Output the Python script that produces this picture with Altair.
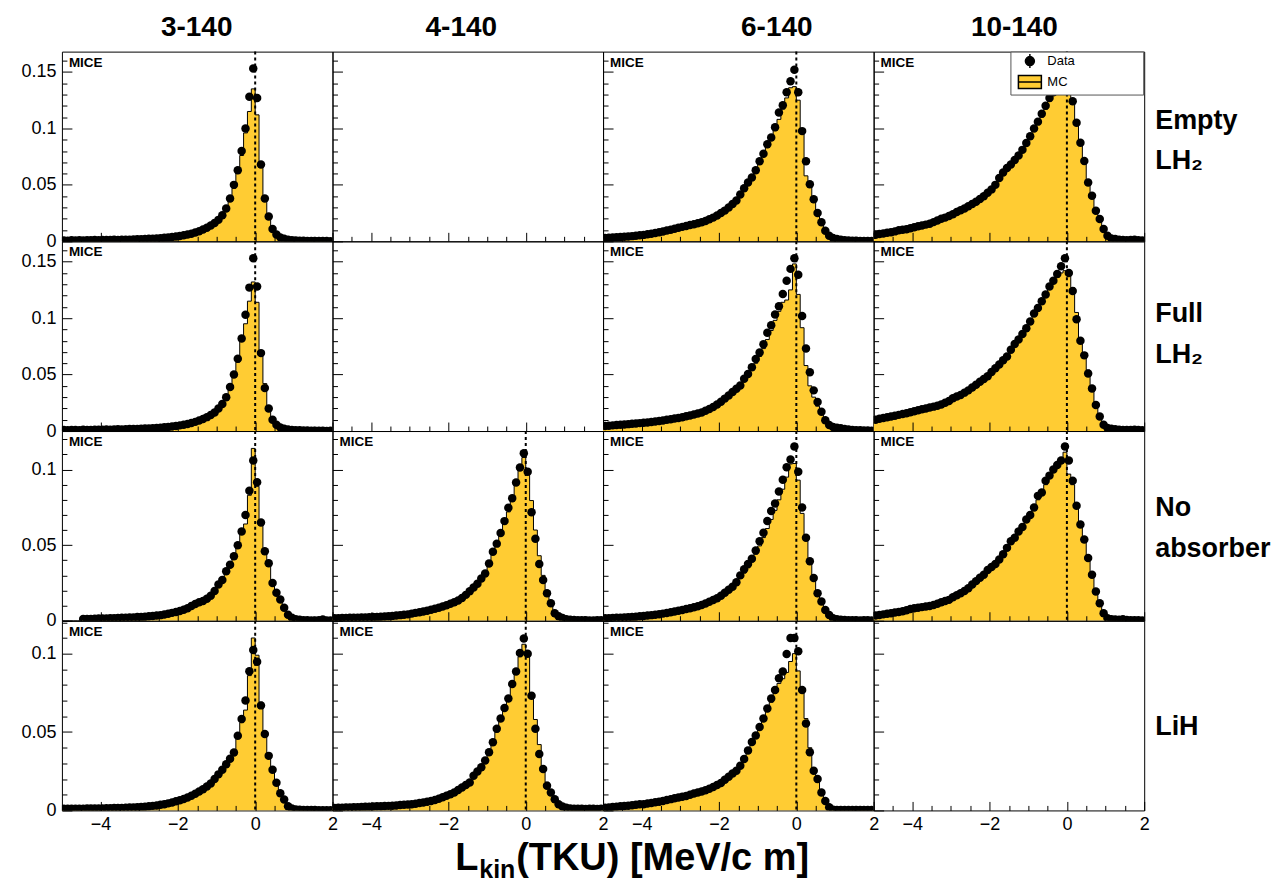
import altair as alt
import pandas as pd

FONT = "Liberation Sans"
YELLOW = "#FFCC33"
W, H = 271, 190

# bin grid: 70 bins of 0.1 from -5 to 2
BIN_LO = [round(-5.0 + 0.1 * i, 1) for i in range(70)]

COLS = ["3-140", "4-140", "6-140", "10-140"]
COL_TITLE_X = [135, 129, 174, 141]
ROWS = [["Empty", "LH\u2082"], ["Full", "LH\u2082"], ["No", "absorber"], ["LiH"]]
ROW_LABEL_Y = [69, 73, 77, 106]
YMAX = [0.168, 0.168, 0.1255, 0.121]
YMAJ = [[0, 0.05, 0.1, 0.15], [0, 0.05, 0.1, 0.15], [0, 0.05, 0.1], [0, 0.05, 0.1]]
XMAJ = [-4, -2, 0, 2]
XMIN = [-4.5, -3.5, -3, -2.5, -1.5, -1, -0.5, 0.5, 1, 1.5]

# ---------------- Empty LH2 ----------------
E3_DATA = [0.0008, 0.0006, 0.0010, 0.0007, 0.0009, 0.0008, 0.0010, 0.0009, 0.0011, 0.0010,
           0.0011, 0.0012, 0.0011, 0.0013, 0.0012, 0.0014, 0.0014, 0.0015, 0.0016, 0.0018,
           0.0019, 0.0020, 0.0022, 0.0024, 0.0026, 0.0028, 0.0031, 0.0034, 0.0038, 0.0042,
           0.0047, 0.0053, 0.0060, 0.0068, 0.0078, 0.0090, 0.0104, 0.0120, 0.0140, 0.0162,
           0.019, 0.023, 0.029, 0.038, 0.050, 0.063, 0.080, 0.100, 0.128, 0.153,
           0.127, 0.068, 0.038, 0.022, 0.011, 0.006, 0.0035, 0.0022, 0.0015, 0.0010,
           0.0008, 0.0006, 0.0005, 0.0004, 0.0003, 0.0004, 0.0003, 0.0002, 0.0002, 0.0001]
E3_MC = [0.0008, 0.0007, 0.0009, 0.0008, 0.0009, 0.0009, 0.0010, 0.0010, 0.0011, 0.0011,
         0.0012, 0.0012, 0.0013, 0.0013, 0.0014, 0.0014, 0.0015, 0.0016, 0.0017, 0.0018,
         0.0019, 0.0021, 0.0022, 0.0024, 0.0026, 0.0029, 0.0032, 0.0035, 0.0039, 0.0043,
         0.0048, 0.0054, 0.0061, 0.0069, 0.0079, 0.0090, 0.0103, 0.0118, 0.0137, 0.0158,
         0.0185, 0.0220, 0.0280, 0.0360, 0.0470, 0.0600, 0.0760, 0.0960, 0.1150, 0.1350,
         0.1120, 0.0700, 0.0400, 0.0230, 0.0120, 0.0062, 0.0036, 0.0022, 0.0015, 0.0010,
         0.0008, 0.0006, 0.0005, 0.0004, 0.0003, 0.0003, 0.0003, 0.0002, 0.0002, 0.0001]
E6_DATA = [0.0030, 0.0032, 0.0034, 0.0036, 0.0038, 0.0040, 0.0043, 0.0046, 0.0050, 0.0053,
           0.0057, 0.0062, 0.0067, 0.0073, 0.0080, 0.0087, 0.0095, 0.0103, 0.0111, 0.0120,
           0.0128, 0.0136, 0.0144, 0.0152, 0.0160, 0.0168, 0.0180, 0.0195, 0.0210, 0.0228,
           0.0250, 0.0272, 0.0300, 0.0330, 0.0362, 0.0415, 0.0470, 0.0520, 0.0565, 0.0630,
           0.0710, 0.0776, 0.0860, 0.0920, 0.1010, 0.1140, 0.1205, 0.1320, 0.1417, 0.1520,
           0.1320, 0.0976, 0.0710, 0.0506, 0.0373, 0.0250, 0.0168, 0.0094, 0.0050, 0.0030,
           0.0020, 0.0015, 0.0010, 0.0008, 0.0006, 0.0005, 0.0004, 0.0003, 0.0003, 0.0002]
E6_MC = [0.0028, 0.0030, 0.0032, 0.0034, 0.0036, 0.0038, 0.0041, 0.0044, 0.0047, 0.0051,
         0.0055, 0.0059, 0.0064, 0.0069, 0.0075, 0.0082, 0.0089, 0.0097, 0.0105, 0.0113,
         0.0121, 0.0129, 0.0137, 0.0145, 0.0154, 0.0163, 0.0175, 0.0189, 0.0204, 0.0222,
         0.0242, 0.0264, 0.0290, 0.0320, 0.0355, 0.0400, 0.0450, 0.0500, 0.0550, 0.0610,
         0.0680, 0.0750, 0.0830, 0.0900, 0.0980, 0.1080, 0.1170, 0.1270, 0.1360, 0.1370,
         0.1250, 0.0990, 0.0580, 0.0500, 0.0370, 0.0250, 0.0165, 0.0092, 0.0050, 0.0030,
         0.0020, 0.0015, 0.0010, 0.0008, 0.0006, 0.0005, 0.0004, 0.0003, 0.0003, 0.0002]
E10_DATA = [0.0058, 0.0065, 0.0070, 0.0075, 0.0080, 0.0088, 0.0098, 0.0102, 0.0107, 0.0115,
            0.0125, 0.0133, 0.0140, 0.0148, 0.0155, 0.0170, 0.0185, 0.0200, 0.0210, 0.0225,
            0.0240, 0.0260, 0.0275, 0.0290, 0.0310, 0.0330, 0.0350, 0.0375, 0.0400, 0.0430,
            0.0460, 0.0500, 0.0560, 0.0610, 0.0650, 0.0680, 0.0720, 0.0760, 0.0810, 0.0870,
            0.0930, 0.1000, 0.1060, 0.1130, 0.1200, 0.1270, 0.1320, 0.1380, 0.1430, 0.1470,
            0.1400, 0.1240, 0.1050, 0.0873, 0.0711, 0.0520, 0.0403, 0.0270, 0.0197, 0.0109,
            0.0050, 0.0025, 0.0020, 0.0015, 0.0012, 0.0010, 0.0012, 0.0015, 0.0010, 0.0008]
E10_MC = [0.0055, 0.0062, 0.0068, 0.0073, 0.0078, 0.0085, 0.0093, 0.0099, 0.0104, 0.0111,
          0.0120, 0.0128, 0.0136, 0.0144, 0.0152, 0.0165, 0.0179, 0.0193, 0.0205, 0.0219,
          0.0233, 0.0252, 0.0268, 0.0284, 0.0302, 0.0322, 0.0342, 0.0366, 0.0392, 0.0420,
          0.0450, 0.0488, 0.0540, 0.0590, 0.0632, 0.0668, 0.0708, 0.0748, 0.0796, 0.0852,
          0.0915, 0.0980, 0.1040, 0.1100, 0.1170, 0.1240, 0.1300, 0.1350, 0.1380, 0.1390,
          0.1360, 0.1250, 0.1060, 0.0880, 0.0720, 0.0530, 0.0400, 0.0275, 0.0190, 0.0110,
          0.0050, 0.0026, 0.0020, 0.0015, 0.0012, 0.0010, 0.0010, 0.0012, 0.0010, 0.0008]

# ---------------- Full LH2 ----------------
F3_DATA = [0.0010, 0.0008, 0.0009, 0.0010, 0.0008, 0.0011, 0.0009, 0.0010, 0.0012, 0.0011,
           0.0012, 0.0013, 0.0012, 0.0014, 0.0015, 0.0014, 0.0016, 0.0017, 0.0018, 0.0019,
           0.0020, 0.0022, 0.0023, 0.0025, 0.0027, 0.0030, 0.0033, 0.0036, 0.0040, 0.0045,
           0.0050, 0.0056, 0.0063, 0.0071, 0.0081, 0.0093, 0.0107, 0.0123, 0.0142, 0.0165,
           0.020, 0.024, 0.030, 0.039, 0.050, 0.064, 0.082, 0.103, 0.127, 0.153,
           0.128, 0.069, 0.038, 0.020, 0.010, 0.0056, 0.0032, 0.0020, 0.0014, 0.0010,
           0.0007, 0.0006, 0.0005, 0.0004, 0.0003, 0.0003, 0.0002, 0.0002, 0.0001, 0.0002]
F3_MC = [0.0009, 0.0009, 0.0009, 0.0010, 0.0010, 0.0010, 0.0010, 0.0011, 0.0011, 0.0012,
         0.0012, 0.0013, 0.0013, 0.0014, 0.0014, 0.0015, 0.0016, 0.0017, 0.0018, 0.0019,
         0.0020, 0.0021, 0.0023, 0.0025, 0.0027, 0.0029, 0.0032, 0.0035, 0.0039, 0.0044,
         0.0049, 0.0055, 0.0062, 0.0070, 0.0080, 0.0091, 0.0104, 0.0120, 0.0139, 0.0161,
         0.0190, 0.0230, 0.0290, 0.0370, 0.0480, 0.0610, 0.0800, 0.0950, 0.1150, 0.1320,
         0.1140, 0.0700, 0.0420, 0.0220, 0.0110, 0.0058, 0.0033, 0.0020, 0.0014, 0.0010,
         0.0007, 0.0006, 0.0005, 0.0004, 0.0003, 0.0003, 0.0002, 0.0002, 0.0002, 0.0001]
F6_DATA = [0.0045, 0.0047, 0.0050, 0.0053, 0.0055, 0.0058, 0.0061, 0.0064, 0.0067, 0.0070,
           0.0073, 0.0076, 0.0080, 0.0084, 0.0089, 0.0094, 0.0099, 0.0104, 0.0110, 0.0116,
           0.0122, 0.0130, 0.0138, 0.0146, 0.0155, 0.0165, 0.0180, 0.0195, 0.0212, 0.0235,
           0.0260, 0.0287, 0.0315, 0.0345, 0.0375, 0.0404, 0.0462, 0.0506, 0.0564, 0.0637,
           0.0696, 0.0769, 0.0871, 0.0936, 0.1032, 0.1105, 0.1213, 0.1330, 0.1436, 0.1530,
           0.1383, 0.1018, 0.0731, 0.0520, 0.0360, 0.0257, 0.0170, 0.0096, 0.0053, 0.0035,
           0.0030, 0.0024, 0.0018, 0.0014, 0.0010, 0.0008, 0.0006, 0.0005, 0.0004, 0.0003]
F6_MC = [0.0043, 0.0045, 0.0048, 0.0051, 0.0053, 0.0056, 0.0059, 0.0062, 0.0065, 0.0068,
         0.0071, 0.0074, 0.0078, 0.0082, 0.0087, 0.0092, 0.0097, 0.0102, 0.0108, 0.0114,
         0.0120, 0.0127, 0.0135, 0.0143, 0.0152, 0.0162, 0.0176, 0.0191, 0.0208, 0.0230,
         0.0255, 0.0280, 0.0305, 0.0335, 0.0365, 0.0395, 0.0440, 0.0485, 0.0540, 0.0600,
         0.0660, 0.0730, 0.0810, 0.0890, 0.0980, 0.1060, 0.1140, 0.1160, 0.1250, 0.1480,
         0.1210, 0.0915, 0.0580, 0.0400, 0.0300, 0.0220, 0.0150, 0.0090, 0.0050, 0.0035,
         0.0030, 0.0024, 0.0018, 0.0014, 0.0010, 0.0008, 0.0006, 0.0005, 0.0004, 0.0003]
F10_DATA = [0.0100, 0.0108, 0.0115, 0.0122, 0.0129, 0.0136, 0.0143, 0.0151, 0.0158, 0.0166,
            0.0175, 0.0183, 0.0192, 0.0200, 0.0208, 0.0216, 0.0224, 0.0235, 0.0250, 0.0265,
            0.0290, 0.0305, 0.0320, 0.0340, 0.0360, 0.0385, 0.0410, 0.0436, 0.0460, 0.0485,
            0.0523, 0.0555, 0.0590, 0.0626, 0.0660, 0.0720, 0.0770, 0.0810, 0.0860, 0.0910,
            0.0970, 0.1040, 0.1090, 0.1150, 0.1210, 0.1280, 0.1330, 0.1390, 0.1460, 0.1530,
            0.1400, 0.1240, 0.0990, 0.0800, 0.0670, 0.0510, 0.0377, 0.0231, 0.0129, 0.0056,
            0.0026, 0.0020, 0.0015, 0.0012, 0.0010, 0.0009, 0.0010, 0.0012, 0.0010, 0.0008]
F10_MC = [0.0098, 0.0105, 0.0112, 0.0119, 0.0126, 0.0133, 0.0140, 0.0148, 0.0155, 0.0163,
          0.0171, 0.0179, 0.0188, 0.0196, 0.0204, 0.0212, 0.0220, 0.0231, 0.0245, 0.0260,
          0.0284, 0.0299, 0.0314, 0.0334, 0.0354, 0.0378, 0.0402, 0.0428, 0.0452, 0.0478,
          0.0515, 0.0548, 0.0583, 0.0618, 0.0652, 0.0710, 0.0760, 0.0800, 0.0850, 0.0900,
          0.0960, 0.1020, 0.1080, 0.1140, 0.1200, 0.1260, 0.1310, 0.1360, 0.1400, 0.1420,
          0.1380, 0.1270, 0.1050, 0.0816, 0.0680, 0.0540, 0.0380, 0.0240, 0.0130, 0.0060,
          0.0027, 0.0020, 0.0015, 0.0012, 0.0010, 0.0009, 0.0010, 0.0011, 0.0010, 0.0008]

# ---------------- No absorber ----------------
N3_DATA = [0, 0, 0, 0, 0, 0.0011, 0.0012, 0.0012, 0.0013, 0.0014,
           0.0014, 0.0015, 0.0016, 0.0017, 0.0018, 0.0019, 0.0020, 0.0021, 0.0022, 0.0024,
           0.0025, 0.0027, 0.0029, 0.0031, 0.0034, 0.0037, 0.0041, 0.0046, 0.0052, 0.0058,
           0.0064, 0.0072, 0.0082, 0.0097, 0.0110, 0.0122, 0.0130, 0.0145, 0.0165, 0.0196,
           0.0240, 0.0270, 0.0328, 0.0370, 0.0427, 0.0500, 0.0590, 0.0700, 0.0860, 0.1060,
           0.0916, 0.0650, 0.0460, 0.0380, 0.0250, 0.0185, 0.0140, 0.0086, 0.0040, 0.0020,
           0.0010, 0.0006, 0.0004, 0.0003, 0.0002, 0.0002, 0.0003, 0.0008, 0.0002, 0.0001]
N3_MC = [0, 0, 0, 0, 0, 0.0010, 0.0011, 0.0012, 0.0012, 0.0013,
         0.0014, 0.0015, 0.0015, 0.0016, 0.0017, 0.0018, 0.0019, 0.0021, 0.0022, 0.0023,
         0.0025, 0.0027, 0.0029, 0.0031, 0.0033, 0.0036, 0.0040, 0.0045, 0.0050, 0.0056,
         0.0062, 0.0070, 0.0080, 0.0093, 0.0106, 0.0118, 0.0128, 0.0142, 0.0162, 0.0190,
         0.0235, 0.0270, 0.0320, 0.0365, 0.0420, 0.0490, 0.0580, 0.0640, 0.0830, 0.1140,
         0.0890, 0.0650, 0.0460, 0.0370, 0.0260, 0.0190, 0.0140, 0.0090, 0.0042, 0.0020,
         0.0010, 0.0006, 0.0004, 0.0003, 0.0002, 0.0002, 0.0002, 0.0003, 0.0002, 0.0001]
N4_DATA = [0.0017, 0.0017, 0.0018, 0.0018, 0.0019, 0.0020, 0.0020, 0.0021, 0.0022, 0.0023,
           0.0024, 0.0025, 0.0027, 0.0028, 0.0030, 0.0032, 0.0034, 0.0037, 0.0039, 0.0042,
           0.0047, 0.0052, 0.0056, 0.0061, 0.0066, 0.0072, 0.0079, 0.0086, 0.0094, 0.0102,
           0.0112, 0.0122, 0.0134, 0.0150, 0.0171, 0.0195, 0.0220, 0.0245, 0.0280, 0.0313,
           0.0379, 0.0456, 0.0510, 0.0580, 0.0659, 0.0747, 0.0810, 0.0915, 0.1014, 0.1108,
           0.0986, 0.0718, 0.0543, 0.0375, 0.0269, 0.0182, 0.0116, 0.0050, 0.0030, 0.0018,
           0.0010, 0.0007, 0.0005, 0.0004, 0.0003, 0.0003, 0.0002, 0.0002, 0.0004, 0.0003]
N4_MC = [0.0016, 0.0017, 0.0017, 0.0018, 0.0018, 0.0019, 0.0020, 0.0020, 0.0021, 0.0022,
         0.0023, 0.0024, 0.0026, 0.0027, 0.0029, 0.0031, 0.0033, 0.0035, 0.0038, 0.0041,
         0.0045, 0.0050, 0.0054, 0.0059, 0.0064, 0.0070, 0.0076, 0.0083, 0.0091, 0.0099,
         0.0108, 0.0118, 0.0130, 0.0145, 0.0165, 0.0188, 0.0212, 0.0238, 0.0272, 0.0306,
         0.0370, 0.0440, 0.0500, 0.0570, 0.0640, 0.0720, 0.0800, 0.0900, 0.1000, 0.1080,
         0.0970, 0.0795, 0.0600, 0.0430, 0.0300, 0.0200, 0.0120, 0.0060, 0.0032, 0.0018,
         0.0010, 0.0007, 0.0005, 0.0004, 0.0003, 0.0003, 0.0002, 0.0002, 0.0003, 0.0003]
N6_DATA = [0.0016, 0.0017, 0.0018, 0.0019, 0.0020, 0.0021, 0.0023, 0.0025, 0.0027, 0.0029,
           0.0031, 0.0034, 0.0037, 0.0040, 0.0043, 0.0047, 0.0051, 0.0056, 0.0061, 0.0066,
           0.0071, 0.0077, 0.0083, 0.0089, 0.0096, 0.0104, 0.0114, 0.0125, 0.0137, 0.0149,
           0.0165, 0.0185, 0.0205, 0.0225, 0.0255, 0.0300, 0.0340, 0.0375, 0.0410, 0.0464,
           0.0526, 0.0582, 0.0660, 0.0726, 0.0775, 0.0855, 0.0933, 0.1015, 0.1066, 0.1153,
           0.0986, 0.0749, 0.0549, 0.0393, 0.0282, 0.0182, 0.0127, 0.0071, 0.0038, 0.0016,
           0.0010, 0.0007, 0.0005, 0.0004, 0.0003, 0.0003, 0.0002, 0.0004, 0.0003, 0.0002]
N6_MC = [0.0015, 0.0016, 0.0017, 0.0018, 0.0019, 0.0020, 0.0022, 0.0024, 0.0026, 0.0028,
         0.0030, 0.0033, 0.0036, 0.0039, 0.0042, 0.0046, 0.0050, 0.0055, 0.0060, 0.0065,
         0.0070, 0.0076, 0.0082, 0.0088, 0.0095, 0.0103, 0.0112, 0.0122, 0.0133, 0.0145,
         0.0160, 0.0178, 0.0198, 0.0220, 0.0245, 0.0280, 0.0315, 0.0350, 0.0390, 0.0440,
         0.0495, 0.0550, 0.0610, 0.0670, 0.0730, 0.0800, 0.0870, 0.0950, 0.1037, 0.1040,
         0.0930, 0.0710, 0.0540, 0.0400, 0.0280, 0.0185, 0.0125, 0.0070, 0.0040, 0.0018,
         0.0010, 0.0007, 0.0005, 0.0004, 0.0003, 0.0003, 0.0002, 0.0003, 0.0003, 0.0002]
N10_DATA = [0.0035, 0.0038, 0.0042, 0.0046, 0.0050, 0.0054, 0.0058, 0.0063, 0.0070, 0.0077,
            0.0082, 0.0086, 0.0090, 0.0094, 0.0098, 0.0104, 0.0112, 0.0122, 0.0130, 0.0138,
            0.0155, 0.0168, 0.0182, 0.0196, 0.0215, 0.0240, 0.0262, 0.0285, 0.0304, 0.0335,
            0.0355, 0.0375, 0.0405, 0.0440, 0.0482, 0.0526, 0.0549, 0.0590, 0.0620, 0.0670,
            0.0700, 0.0749, 0.0826, 0.0849, 0.0926, 0.0960, 0.1000, 0.1030, 0.1060, 0.1153,
            0.1060, 0.0926, 0.0760, 0.0637, 0.0538, 0.0415, 0.0304, 0.0193, 0.0116, 0.0049,
            0.0016, 0.0010, 0.0008, 0.0006, 0.0010, 0.0005, 0.0004, 0.0003, 0.0003, 0.0002]
N10_MC = [0.0034, 0.0037, 0.0041, 0.0045, 0.0049, 0.0053, 0.0057, 0.0062, 0.0068, 0.0075,
          0.0080, 0.0084, 0.0088, 0.0092, 0.0096, 0.0102, 0.0110, 0.0119, 0.0127, 0.0135,
          0.0150, 0.0163, 0.0177, 0.0191, 0.0210, 0.0232, 0.0254, 0.0276, 0.0296, 0.0325,
          0.0345, 0.0368, 0.0396, 0.0430, 0.0470, 0.0512, 0.0540, 0.0580, 0.0612, 0.0655,
          0.0690, 0.0740, 0.0800, 0.0840, 0.0900, 0.0950, 0.0990, 0.1020, 0.1070, 0.1115,
          0.0970, 0.0900, 0.0760, 0.0640, 0.0540, 0.0420, 0.0300, 0.0195, 0.0115, 0.0050,
          0.0017, 0.0010, 0.0008, 0.0006, 0.0008, 0.0005, 0.0004, 0.0003, 0.0003, 0.0002]

# ---------------- LiH ----------------
L3_DATA = [0.0010, 0.0010, 0.0011, 0.0010, 0.0011, 0.0011, 0.0012, 0.0012, 0.0012, 0.0013,
           0.0013, 0.0014, 0.0014, 0.0015, 0.0015, 0.0016, 0.0017, 0.0018, 0.0019, 0.0020,
           0.0022, 0.0024, 0.0026, 0.0029, 0.0032, 0.0036, 0.0040, 0.0045, 0.0051, 0.0058,
           0.0065, 0.0073, 0.0083, 0.0094, 0.0106, 0.0120, 0.0135, 0.0152, 0.0172, 0.0200,
           0.0230, 0.0260, 0.0295, 0.0330, 0.0369, 0.0476, 0.0583, 0.0701, 0.0888, 0.1023,
           0.0948, 0.0670, 0.0487, 0.0348, 0.0260, 0.0176, 0.0110, 0.0069, 0.0026, 0.0012,
           0.0006, 0.0004, 0.0003, 0.0002, 0.0002, 0.0003, 0.0001, 0.0001, 0.0001, 0.0001]
L3_MC = [0.0010, 0.0010, 0.0010, 0.0011, 0.0011, 0.0011, 0.0012, 0.0012, 0.0012, 0.0013,
         0.0013, 0.0014, 0.0014, 0.0015, 0.0015, 0.0016, 0.0017, 0.0018, 0.0019, 0.0020,
         0.0022, 0.0024, 0.0026, 0.0028, 0.0031, 0.0035, 0.0039, 0.0044, 0.0050, 0.0057,
         0.0064, 0.0072, 0.0081, 0.0092, 0.0104, 0.0117, 0.0132, 0.0149, 0.0169, 0.0195,
         0.0225, 0.0255, 0.0290, 0.0330, 0.0380, 0.0470, 0.0560, 0.0640, 0.0860, 0.1100,
         0.0990, 0.0690, 0.0490, 0.0350, 0.0255, 0.0175, 0.0112, 0.0068, 0.0028, 0.0012,
         0.0006, 0.0004, 0.0003, 0.0002, 0.0002, 0.0002, 0.0001, 0.0001, 0.0001, 0.0001]
L4_DATA = [0.0016, 0.0017, 0.0017, 0.0018, 0.0019, 0.0020, 0.0021, 0.0022, 0.0023, 0.0024,
           0.0025, 0.0026, 0.0027, 0.0028, 0.0029, 0.0030, 0.0032, 0.0034, 0.0036, 0.0038,
           0.0040, 0.0043, 0.0047, 0.0051, 0.0055, 0.0060, 0.0067, 0.0075, 0.0084, 0.0094,
           0.0103, 0.0115, 0.0130, 0.0146, 0.0162, 0.0178, 0.0221, 0.0248, 0.0275, 0.0318,
           0.0371, 0.0435, 0.0521, 0.0586, 0.0654, 0.0714, 0.0807, 0.0886, 0.1004, 0.1096,
           0.1000, 0.0732, 0.0521, 0.0360, 0.0264, 0.0157, 0.0114, 0.0071, 0.0039, 0.0025,
           0.0017, 0.0013, 0.0011, 0.0010, 0.0010, 0.0009, 0.0010, 0.0010, 0.0009, 0.0010]
L4_MC = [0.0016, 0.0016, 0.0017, 0.0018, 0.0018, 0.0019, 0.0020, 0.0021, 0.0022, 0.0023,
         0.0024, 0.0025, 0.0026, 0.0027, 0.0028, 0.0029, 0.0031, 0.0033, 0.0035, 0.0037,
         0.0039, 0.0042, 0.0045, 0.0049, 0.0053, 0.0058, 0.0064, 0.0072, 0.0081, 0.0091,
         0.0100, 0.0112, 0.0126, 0.0142, 0.0158, 0.0175, 0.0210, 0.0240, 0.0270, 0.0310,
         0.0365, 0.0425, 0.0500, 0.0570, 0.0640, 0.0710, 0.0790, 0.0880, 0.0980, 0.1060,
         0.1000, 0.0750, 0.0580, 0.0420, 0.0280, 0.0180, 0.0110, 0.0060, 0.0036, 0.0024,
         0.0017, 0.0013, 0.0011, 0.0010, 0.0010, 0.0009, 0.0009, 0.0010, 0.0009, 0.0009]
L6_DATA = [0.0017, 0.0019, 0.0022, 0.0024, 0.0026, 0.0028, 0.0030, 0.0033, 0.0036, 0.0039,
           0.0040, 0.0044, 0.0048, 0.0052, 0.0056, 0.0060, 0.0066, 0.0072, 0.0077, 0.0082,
           0.0087, 0.0092, 0.0100, 0.0108, 0.0114, 0.0120, 0.0128, 0.0138, 0.0150, 0.0162,
           0.0175, 0.0195, 0.0215, 0.0235, 0.0253, 0.0285, 0.0328, 0.0382, 0.0436, 0.0478,
           0.0532, 0.0586, 0.0650, 0.0714, 0.0768, 0.0843, 0.0886, 0.0998, 0.1100, 0.1100,
           0.1015, 0.0768, 0.0554, 0.0371, 0.0253, 0.0200, 0.0114, 0.0060, 0.0020, 0.0005,
           0.0003, 0.0002, 0.0002, 0.0002, 0.0003, 0.0002, 0.0002, 0.0003, 0.0002, 0.0002]
L6_MC = [0.0017, 0.0019, 0.0021, 0.0023, 0.0025, 0.0027, 0.0029, 0.0032, 0.0035, 0.0038,
         0.0040, 0.0043, 0.0047, 0.0051, 0.0055, 0.0059, 0.0064, 0.0070, 0.0075, 0.0080,
         0.0085, 0.0090, 0.0097, 0.0105, 0.0111, 0.0117, 0.0125, 0.0135, 0.0146, 0.0158,
         0.0171, 0.0190, 0.0210, 0.0230, 0.0250, 0.0280, 0.0320, 0.0370, 0.0420, 0.0465,
         0.0520, 0.0570, 0.0630, 0.0690, 0.0750, 0.0810, 0.0840, 0.0880, 0.0950, 0.1000,
         0.0890, 0.0780, 0.0586, 0.0400, 0.0240, 0.0180, 0.0110, 0.0058, 0.0022, 0.0006,
         0.0003, 0.0002, 0.0002, 0.0002, 0.0002, 0.0002, 0.0002, 0.0002, 0.0002, 0.0002]

PANELS = {
    (0, 0): (E3_DATA, E3_MC), (0, 1): None, (0, 2): (E6_DATA, E6_MC), (0, 3): (E10_DATA, E10_MC),
    (1, 0): (F3_DATA, F3_MC), (1, 1): None, (1, 2): (F6_DATA, F6_MC), (1, 3): (F10_DATA, F10_MC),
    (2, 0): (N3_DATA, N3_MC), (2, 1): (N4_DATA, N4_MC), (2, 2): (N6_DATA, N6_MC), (2, 3): (N10_DATA, N10_MC),
    (3, 0): (L3_DATA, L3_MC), (3, 1): (L4_DATA, L4_MC), (3, 2): (L6_DATA, L6_MC), (3, 3): None,
}

DATA_PATH = "M0,-1.4V1.4M0.9,0A0.9,0.9,0,1,1,-0.9,0A0.9,0.9,0,1,1,0.9,0Z"
MC_PATH = "M-2.3,-1.3H2.3V1.3H-2.3Z M-2.3,0H2.3"
# trailing spaces widen the legend box; the zero-width space keeps them from being trimmed
LEGEND_LABEL = "datum.label + '" + " " * 18 + "\u200b'"


def tick_axis(orient, offset, values, size):
    return alt.Axis(orient=orient, offset=offset, values=values, labels=False, ticks=True,
                    tickSize=size, tickColor="black", tickWidth=1, domain=False, grid=False,
                    title=None, zindex=2)


def text_layer(text, x, y, **kw):
    return alt.Chart(pd.DataFrame({"t": [0]})).mark_text(text=text, font=FONT, **kw).encode(
        x=alt.value(x), y=alt.value(y))


def panel(r, c):
    vals = PANELS[(r, c)]
    xs = alt.Scale(domain=[-5, 2], nice=False, zero=False)
    ys = alt.Scale(domain=[0, YMAX[r]], nice=False, zero=False)
    if vals is None:
        mc_df = pd.DataFrame({"edge": pd.Series(dtype=float), "mc": pd.Series(dtype=float)})
        pt_df = pd.DataFrame({"center": pd.Series(dtype=float), "data": pd.Series(dtype=float)})
    else:
        data, mc = vals
        mc_df = pd.DataFrame({"edge": BIN_LO + [2.0], "mc": list(mc) + [mc[-1]]})
        pt_df = pd.DataFrame({"center": [round(b + 0.05, 2) for b in BIN_LO], "data": data})
        pt_df = pt_df[pt_df["data"] > 0]

    xlab = (alt.Axis(values=XMAJ, format="~g", ticks=False, domain=False, grid=False,
                     labelFontSize=18, labelFont=FONT, labelColor="black", labelPadding=5,
                     labelFlush=False, labelOverlap=False, title=None)
            if r == 3 else None)
    ylab = (alt.Axis(values=YMAJ[r], format="~g", ticks=False, domain=False, grid=False,
                     labelFontSize=18, labelFont=FONT, labelColor="black", labelPadding=6,
                     labelOverlap=False, title=None)
            if c == 0 else None)
    yminor = [round(0.01 * k, 2) for k in range(1, int(YMAX[r] * 100) + 1) if k % 5 != 0]

    area = alt.Chart(mc_df).mark_area(interpolate="step-after", color=YELLOW, clip=True).encode(
        x=alt.X("edge:Q", scale=xs, axis=xlab),
        y=alt.Y("mc:Q", scale=ys, axis=ylab))
    line = alt.Chart(mc_df).mark_line(interpolate="step-after", color="black", strokeWidth=1,
                                      clip=True).encode(
        x=alt.X("edge:Q", scale=xs, axis=tick_axis("top", -H, XMAJ, 9)),
        y=alt.Y("mc:Q", scale=ys, axis=tick_axis("right", -W, YMAJ[r], 10)))
    pts = alt.Chart(pt_df).mark_circle(size=72, color="black", opacity=1, clip=True).encode(
        x=alt.X("center:Q", scale=xs, axis=tick_axis("top", -H, XMIN, 5)),
        y=alt.Y("data:Q", scale=ys, axis=tick_axis("right", -W, yminor, 5)))
    zero = alt.Chart(pd.DataFrame({"z": [0.0]})).mark_rule(
        color="black", strokeWidth=2, strokeDash=[3, 3]).encode(
        x=alt.X("z:Q", scale=xs, axis=None))
    if vals is None:
        layers = [area, line, pts]
    else:
        layers = [area, line, pts, zero,
                  text_layer("MICE", 7, 15, fontSize=13.5, fontWeight="bold",
                             align="left", baseline="alphabetic")]
    if r == 0:
        layers.append(text_layer(COLS[c], COL_TITLE_X[c], -24, fontSize=28, fontWeight="bold",
                                 align="center", baseline="middle"))
    if c == 3:
        layers.append(text_layer(ROWS[r], W + 11, ROW_LABEL_Y[r], fontSize=27, fontWeight="bold",
                                 align="left", baseline="middle", lineHeight=41))
    if (r, c) == (3, 1):
        layers.append(text_layer("L", 123, 250, fontSize=38, fontWeight="bold",
                                 align="left", baseline="alphabetic"))
        layers.append(text_layer("kin", 147, 258, fontSize=25, fontWeight="bold",
                                 align="left", baseline="alphabetic"))
        layers.append(text_layer("(TKU) [MeV/c m]", 184, 250, fontSize=38, fontWeight="bold",
                                 align="left", baseline="alphabetic"))
    if (r, c) == (0, 3):
        # legends in a concatenated chart are placed relative to the whole grid's origin
        leg = alt.Legend(title=None, orient="none", legendX=3 * W + 137, legendY=0,
                         direction="vertical", fillColor="white", strokeColor="#555",
                         padding=3, labelFont=FONT, labelFontSize=13, labelColor="black",
                         symbolSize=100, symbolOpacity=1, symbolOffset=10, labelOffset=11,
                         rowPadding=1, labelExpr=LEGEND_LABEL)
        dom = ["Data", "MC"]
        legend_layer = alt.Chart(pd.DataFrame({"s": dom})).mark_point(filled=True, opacity=0).encode(
            fill=alt.Fill("s:N", scale=alt.Scale(domain=dom, range=["black", YELLOW]), legend=leg),
            stroke=alt.Stroke("s:N", scale=alt.Scale(domain=dom, range=["black", "black"]), legend=leg),
            shape=alt.Shape("s:N", scale=alt.Scale(domain=dom, range=[DATA_PATH, MC_PATH]), legend=leg))
        layers.append(legend_layer)
    return alt.layer(*layers).resolve_axis(x="independent", y="independent").properties(
        width=W, height=H)


charts = [panel(r, c) for r in range(4) for c in range(4)]
chart = alt.concat(*charts, columns=4, spacing=0, bounds="flush").properties(
    padding={"left": 12, "top": 4, "right": 0, "bottom": 0},
    background="white",
).configure_view(stroke="black", strokeWidth=1).configure_axis(
    labelFont=FONT, labelColor="black", grid=False, domain=False
).configure_text(font=FONT)

chart.save("out.html", embed_options={"renderer": "svg", "actions": False})
